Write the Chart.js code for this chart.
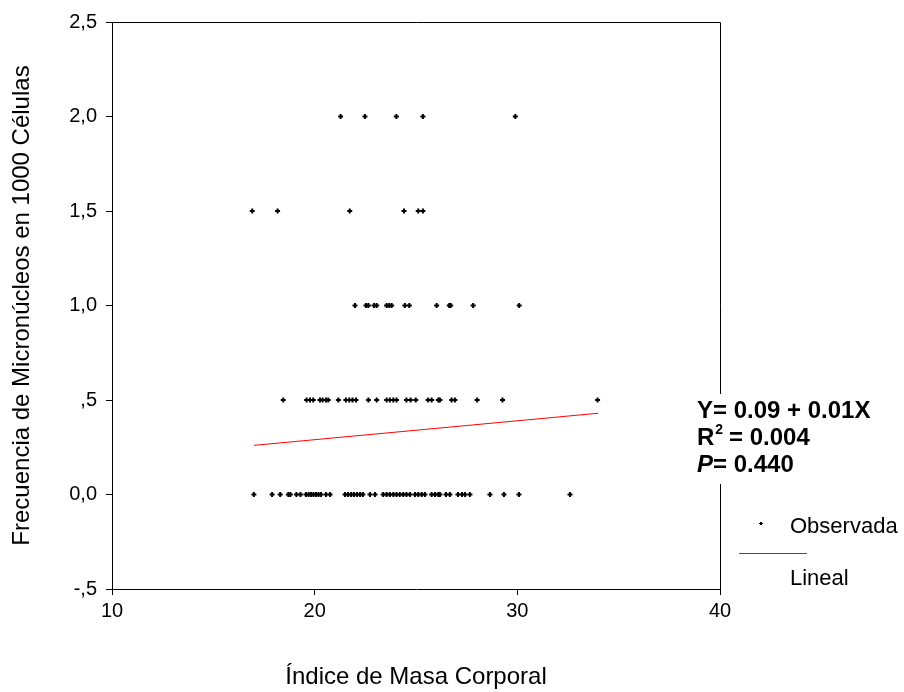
<!DOCTYPE html>
<html>
<head>
<meta charset="utf-8">
<style>
  body { margin: 0; background: #fff; }
</style>
</head>
<body>
<canvas id="myChart" width="904" height="692"></canvas>

<script src="https://cdn.jsdelivr.net/npm/chart.js"></script>

<script>
  // IMC de cada sujeto, agrupado por frecuencia de micronúcleos
  const imc00 = [17.0, 17.9, 18.3, 18.7, 18.8, 19.1, 19.3, 19.57, 19.7, 19.82, 19.94, 20.07, 20.19, 20.31,
    20.56, 20.76, 21.5, 21.65, 21.8, 21.94, 22.09, 22.24, 22.38, 22.73, 22.98, 23.38, 23.55, 23.71, 23.88,
    24.04, 24.2, 24.37, 24.53, 24.7, 24.95, 25.11, 25.28, 25.44, 25.77, 25.94, 26.1, 26.18, 26.48, 26.67,
    27.07, 27.27, 27.42, 27.66, 28.65, 29.34, 30.08, 32.6];
  const imc05 = [18.45, 19.6, 19.77, 19.93, 20.26, 20.39, 20.56, 20.67, 21.17, 21.54, 21.71, 21.87, 22.04,
    22.65, 23.06, 23.55, 23.71, 23.88, 24.04, 24.53, 24.73, 24.99, 25.6, 25.77, 26.1, 26.18, 26.76, 26.92,
    28.02, 29.27, 33.96];
  const imc10 = [21.99, 22.53, 22.65, 22.93, 23.06, 23.55, 23.68, 23.8, 24.45, 24.67, 26.02, 26.64, 26.71,
    27.82, 30.09];
  const imc15 = [16.92, 18.17, 21.73, 24.41, 25.11, 25.34];
  const imc20 = [21.28, 22.48, 24.03, 25.34, 29.9];

  const frecuencias = [0, 0.5, 1.0, 1.5, 2.0];
  const grupos = [imc00, imc05, imc10, imc15, imc20];

  // recta de regresion Y = 0.09 + 0.01X
  const linealX = [17.0, 34.0];
  const linealY = [0.26, 0.43];

  const yTickLabels = { '-0.5': '-,5', '0': '0,0', '0.5': ',5', '1': '1,0', '1.5': '1,5', '2': '2,0', '2.5': '2,5' };

  const observados = [];
  grupos.forEach((g, i) => g.forEach(x => observados.push({ x: x, y: frecuencias[i] })));

  const fuente = "'Liberation Sans', Arial, sans-serif";

  // marco del grafico + texto de la regresion + leyenda
  const extras = {
    id: 'extras',
    afterDraw(chart) {
      const ctx = chart.ctx;
      const a = chart.chartArea;
      ctx.save();
      ctx.strokeStyle = '#000';
      ctx.lineWidth = 1;
      ctx.beginPath();
      ctx.moveTo(a.left, a.top + 0.5);
      ctx.lineTo(a.right + 0.5, a.top + 0.5);
      ctx.lineTo(a.right + 0.5, a.bottom);
      ctx.stroke();

      // caja blanca tras el texto
      ctx.fillStyle = '#fff';
      ctx.fillRect(694, 394, 200, 90);

      ctx.fillStyle = '#000';
      ctx.textBaseline = 'alphabetic';
      ctx.font = 'bold 24px ' + fuente;
      ctx.fillText('Y= 0.09 + 0.01X', 697, 418);
      ctx.fillText('R', 697, 445);
      let w = ctx.measureText('R').width;
      ctx.font = 'bold 14px ' + fuente;
      ctx.fillText('2', 697 + w + 1, 434);
      ctx.font = 'bold 24px ' + fuente;
      ctx.fillText(' = 0.004', 697 + w + 8, 445);
      ctx.font = 'italic bold 24px ' + fuente;
      ctx.fillText('P', 697, 472);
      w = ctx.measureText('P').width;
      ctx.font = 'bold 24px ' + fuente;
      ctx.fillText('= 0.440', 697 + w, 472);

      // leyenda
      ctx.font = '22px ' + fuente;
      ctx.fillText('Observada', 790, 533);
      ctx.fillText('Lineal', 790, 585);
      ctx.fillRect(760, 522, 2, 3);
      ctx.fillRect(759, 523, 4, 1);
      ctx.strokeStyle = '#ff0000';
      ctx.beginPath();
      ctx.moveTo(739, 553.5);
      ctx.lineTo(807, 553.5);
      ctx.stroke();
      ctx.restore();
    }
  };

  const config = {
    type: 'scatter',
    data: {
      datasets: [
        {
          label: 'Observada',
          data: observados,
          pointStyle: 'cross',
          pointRadius: 2.5,
          borderWidth: 2,
          borderColor: '#000',
          backgroundColor: '#000',
          order: 2
        },
        {
          label: 'Lineal',
          type: 'line',
          data: linealX.map((x, i) => ({ x: x, y: linealY[i] })),
          borderColor: '#ff0000',
          borderWidth: 1,
          pointRadius: 0,
          fill: false,
          order: 1
        }
      ]
    },
    options: {
      responsive: false,
      animation: false,
      layout: { padding: { left: 0, top: 22, right: 184, bottom: 0 } },
      plugins: {
        legend: { display: false },
        tooltip: { enabled: false }
      },
      scales: {
        x: {
          type: 'linear',
          min: 10,
          max: 40,
          afterFit: s => { s.height = 103; },
          border: { color: '#000', width: 1 },
          grid: { drawOnChartArea: false, color: '#000', tickLength: 6 },
          ticks: { stepSize: 10, color: '#000', padding: 4, font: { family: fuente, size: 20 } },
          title: {
            display: true,
            text: 'Índice de Masa Corporal',
            color: '#000',
            padding: { top: 4, bottom: 0 },
            font: { family: fuente, size: 24 }
          }
        },
        y: {
          min: -0.5,
          max: 2.5,
          afterFit: s => { s.width = 112; },
          border: { color: '#000', width: 1 },
          grid: { drawOnChartArea: false, color: '#000', tickLength: 6 },
          ticks: {
            stepSize: 0.5,
            color: '#000',
            padding: 9,
            font: { family: fuente, size: 20 },
            callback: v => yTickLabels[String(v)]
          },
          title: {
            display: true,
            text: 'Frecuencia de Micronúcleos en 1000 Células',
            color: '#000',
            padding: { top: 8, bottom: 4 },
            font: { family: fuente, size: 24 }
          }
        }
      }
    },
    plugins: [extras]
  };

  new Chart(document.getElementById('myChart'), config);
</script>
</body>
</html>
